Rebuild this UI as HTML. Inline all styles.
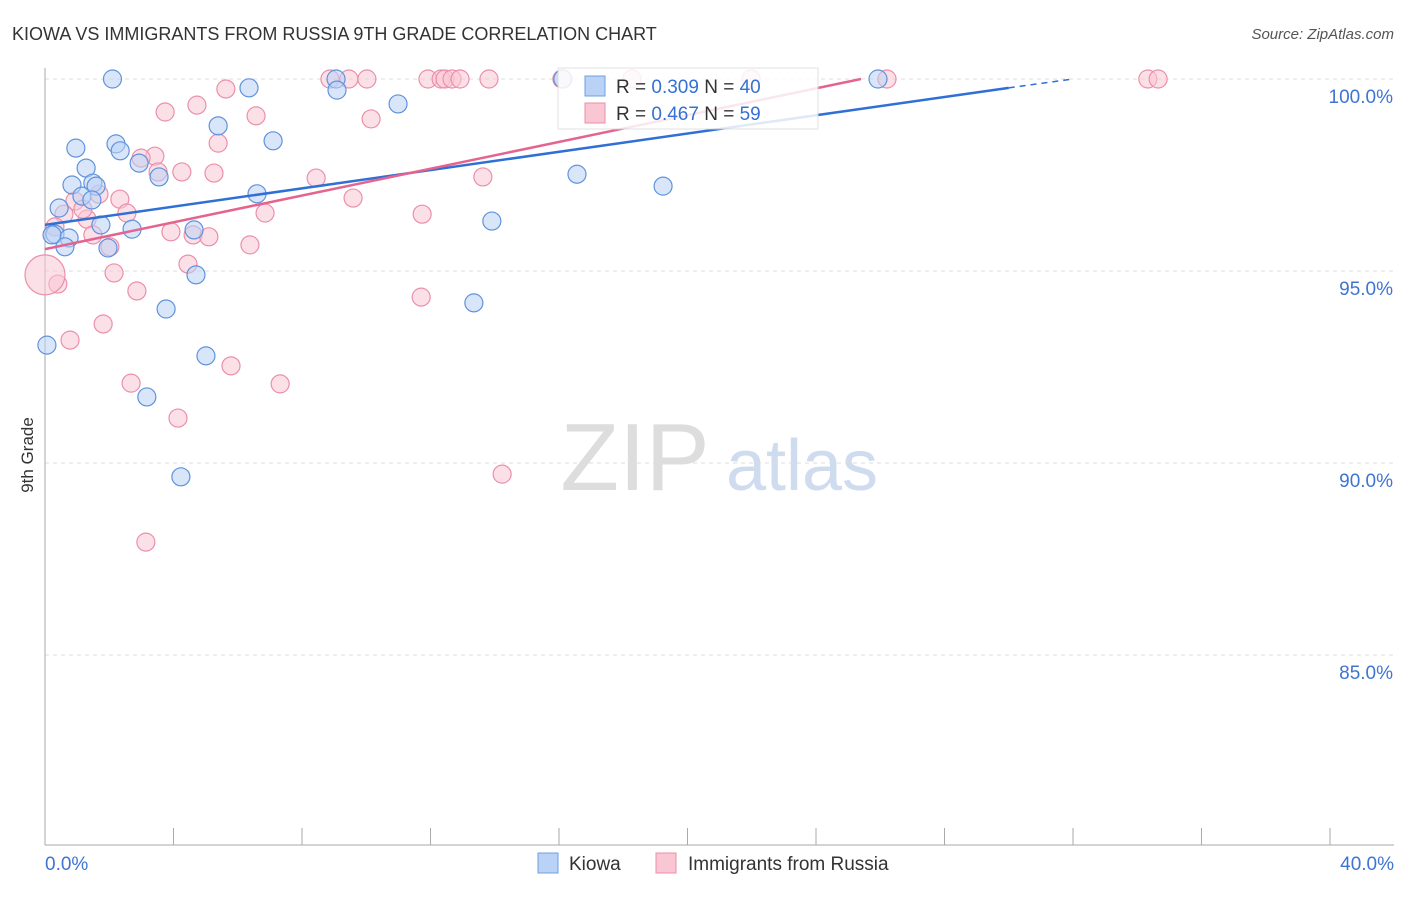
<!DOCTYPE html>
<html><head><meta charset="utf-8"><style>
body{margin:0;background:#fff;font-family:"Liberation Sans",sans-serif}
svg text{font-family:"Liberation Sans",sans-serif}
</style></head><body>
<svg id="c" width="1406" height="892">
<text x="12" y="40" font-size="18" fill="#333">KIOWA VS IMMIGRANTS FROM RUSSIA 9TH GRADE CORRELATION CHART</text>
<text x="1394" y="39" font-size="15" fill="#555" text-anchor="end" font-style="italic">Source: ZipAtlas.com</text>
<text x="33" y="455" font-size="17" fill="#333" text-anchor="middle" transform="rotate(-90 33 455)">9th Grade</text>
<g><text x="635" y="490" font-size="96" fill="#ddd" text-anchor="middle" font-family="Liberation Serif">ZIP</text><text x="802" y="490" font-size="72" fill="#cfdcef" text-anchor="middle">atlas</text></g>
<g id="grid"></g><g id="marks"></g><g id="lines"></g>
<g>
<rect x="558" y="68" width="260" height="61" fill="#fff" stroke="#ddd" opacity="0.85"/>
<rect x="585" y="76" width="20" height="20" fill="#b9d2f5" stroke="#6f9fe0"/>
<text x="616" y="93" font-size="19" fill="#333">R = <tspan fill="#3470d6">0.309</tspan>   N = <tspan fill="#3470d6">40</tspan></text>
<rect x="585" y="103" width="20" height="20" fill="#f9c6d4" stroke="#eb8fab"/>
<text x="616" y="120" font-size="19" fill="#333">R = <tspan fill="#3470d6">0.467</tspan>   N = <tspan fill="#3470d6">59</tspan></text>
</g>
<g>
<rect x="538" y="853" width="20" height="20" fill="#b9d2f5" stroke="#6f9fe0"/>
<text x="569" y="870" font-size="19" fill="#333">Kiowa</text>
<rect x="656" y="853" width="20" height="20" fill="#f9c6d4" stroke="#eb8fab"/>
<text x="688" y="870" font-size="19" fill="#333">Immigrants from Russia</text>
</g>
</svg>
<script>
const xTicks=[0,4,8,12,16,20,24,28,32,36,40];
const yTicks=[100,95,90,85];
const yTickLabels=["100.0%","95.0%","90.0%","85.0%"];
const kiowaX=[2.1,6.35,9.06,9.09,10.99,5.39,7.1,0.96,2.21,2.34,2.93,1.28,3.55,0.84,1.49,1.59,1.15,1.46,0.44,6.6,1.74,2.71,4.64,0.31,0.22,0.75,0.62,1.96,4.7,3.77,5.01,3.17,4.23,0.06,16.56,19.24,13.91,13.35,25.93,16.12];
const kiowaY=[100,99.77,100,99.71,99.35,98.78,98.39,98.2,98.31,98.13,97.81,97.68,97.45,97.24,97.29,97.21,96.95,96.85,96.64,97.01,96.2,96.09,96.07,95.96,95.94,95.86,95.63,95.6,94.9,94.01,92.79,91.72,89.64,93.07,97.52,97.21,96.3,94.17,100,100];
const russiaX=[5.63,3.74,4.73,6.57,10.15,5.39,3.42,2.99,4.26,3.52,5.26,8.44,9.59,11.74,13.63,6.85,2.33,1.68,0.93,0.59,1.31,2.55,3.92,4.61,5.1,1.49,2.02,6.38,4.45,2.15,2.86,0.4,0,1.81,0.78,2.68,5.79,7.32,4.14,11.71,14.23,3.14,8.87,9.46,10.02,11.92,12.33,12.45,12.67,12.92,13.82,16.09,18.27,21.98,26.21,34.33,34.65,0.31,1.18];
const russiaY=[99.74,99.14,99.32,99.04,98.96,98.33,97.99,97.94,97.58,97.58,97.55,97.42,96.9,96.48,97.45,96.51,96.87,97.0,96.82,96.48,96.35,96.51,96.02,95.94,95.89,95.94,95.63,95.68,95.18,94.95,94.48,94.66,94.9,93.62,93.2,92.08,92.53,92.06,91.17,94.32,89.71,87.94,100,100,100,100,100,100,100,100,100,100,100,100,100,100,100,96.15,96.61];
const kiowaTrend=[[0,96.2],[30,99.77],[32,100]];
const russiaTrend=[[0,95.57],[25.4,100]];
const X0=45,X1=1330,Y100=79,PX=38.4;
const sx=v=>X0+(X1-X0)*v/40, sy=v=>Y100+(100-v)*PX;
const NS="http://www.w3.org/2000/svg";
function mk(t,a,p){const e=document.createElementNS(NS,t);for(const k in a)e.setAttribute(k,a[k]);p.appendChild(e);return e;}
const grid=document.getElementById('grid'),marks=document.getElementById('marks'),lines=document.getElementById('lines');
yTicks.forEach((v,i)=>{
 const l=mk('line',{x1:45,x2:1394,y1:sy(v),y2:sy(v),stroke:'#ddd','stroke-dasharray':'4 4'},grid);
 
 
 const t=mk('text',{x:1393,y:sy(v)+24,'font-size':19,fill:'#3f74d2','text-anchor':'end'},grid);t.textContent=yTickLabels[i];
 
 
});
const ax=mk('line',{x1:45,x2:45,y1:68,y2:845,stroke:'#aaa'},grid);


const bx=mk('line',{x1:45,x2:1394,y1:845,y2:845,stroke:'#aaa'},grid);


xTicks.forEach(v=>{const t=mk('line',{x1:sx(v),x2:sx(v),y1:828,y2:845,stroke:'#aaa'},grid);
 
 });
[[0,'0.0%','start',45],[40,'40.0%','end',1394]].forEach(d=>{const t=mk('text',{x:d[3],y:870,'font-size':19,fill:'#3f74d2','text-anchor':d[2]},grid);t.textContent=d[1];
 
 });
function pts(xs,ys,fill,stroke,name){xs.forEach((x,i)=>{const r=(name==='russia-point'&&i===32)?20:9;
 const c=mk('circle',{cx:sx(x),cy:sy(ys[i]),r:r,fill:fill,stroke:stroke,'stroke-width':1.2,'fill-opacity':0.55},marks);
 
 });}
pts(russiaX,russiaY,'#f9c6d4','#eb8fab','russia-point');
pts(kiowaX,kiowaY,'#b9d2f5','#5f93dd','kiowa-point');
const k1=mk('line',{x1:sx(kiowaTrend[0][0]),y1:sy(kiowaTrend[0][1]),x2:sx(kiowaTrend[1][0]),y2:sy(kiowaTrend[1][1]),stroke:'#2f6fd6','stroke-width':2.5},lines);


const k2=mk('line',{x1:sx(kiowaTrend[1][0]),y1:sy(kiowaTrend[1][1]),x2:sx(kiowaTrend[2][0]),y2:sy(kiowaTrend[2][1]),stroke:'#2f6fd6','stroke-width':1.5,'stroke-dasharray':'6 5'},lines);


const r1=mk('line',{x1:sx(russiaTrend[0][0]),y1:sy(russiaTrend[0][1]),x2:sx(russiaTrend[1][0]),y2:sy(russiaTrend[1][1]),stroke:'#e4648f','stroke-width':2.5},lines);


</script>
</body></html>
